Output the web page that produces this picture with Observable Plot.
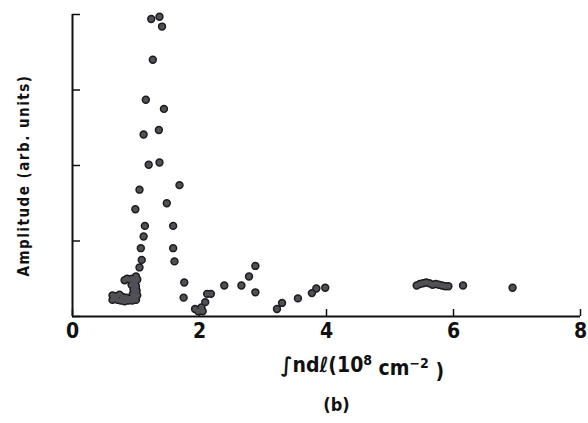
<!DOCTYPE html>
<html><head><meta charset="utf-8">
<script src="https://cdn.jsdelivr.net/npm/d3@7"></script>
<script src="https://cdn.jsdelivr.net/npm/@observablehq/plot@0.6"></script>
<style>
body{margin:0;background:#fff}
#chart svg{display:block}
</style></head><body><div id="chart"></div>
<script>
const xTicks = [0, 2, 4, 6, 8];
const yTicks = [0, 1, 2, 3, 4];
const xLabel = "\u222Bndℓ(10⁸ cm⁻²)";
const yLabel = "Amplitude (arb. units)";
const panelLabel = "(b)";

// main peak region
const peakX = [1.24,1.37,1.41,1.265,1.155,1.44,1.36,1.12,1.20,1.37,1.055,1.685,0.99,1.485,1.14,1.585,1.12,1.076,1.585,1.09,1.606,1.055,1.76,1.75,1.00];
const peakY = [3.94,3.97,3.84,3.40,2.87,2.75,2.47,2.41,2.01,2.04,1.68,1.74,1.42,1.50,1.20,1.20,1.06,0.905,0.905,0.75,0.73,0.65,0.45,0.25,0.53];
// dense low cluster near 0.6-1.0
const clusterX = [0.63,0.63,0.66,0.69,0.71,0.74,0.76,0.79,0.82,0.85,0.88,0.91,0.94,0.97,1.00,1.02,1.01,1.00,0.99,1.02,0.82,0.86,0.90,0.94,0.97,0.93,0.96,0.95];
const clusterY = [0.22,0.28,0.25,0.27,0.22,0.29,0.21,0.26,0.20,0.25,0.21,0.24,0.21,0.25,0.22,0.28,0.34,0.40,0.46,0.49,0.48,0.50,0.49,0.50,0.48,0.42,0.36,0.30];
// tail 2-4
const tailX = [1.93,1.98,2.03,2.05,2.09,2.12,2.18,2.39,2.66,2.78,2.88,2.88,3.22,3.30,3.55,3.77,3.84,3.98];
const tailY = [0.10,0.07,0.12,0.07,0.19,0.30,0.30,0.41,0.41,0.53,0.67,0.32,0.10,0.18,0.24,0.31,0.37,0.38];
// far group 5.4-7
const farX = [5.42,5.47,5.52,5.57,5.62,5.67,5.72,5.77,5.82,5.87,5.92,6.15,6.93];
const farY = [0.41,0.43,0.44,0.45,0.44,0.42,0.43,0.42,0.41,0.40,0.40,0.41,0.38];

const xs = [...peakX, ...clusterX, ...tailX, ...farX];
const ys = [...peakY, ...clusterY, ...tailY, ...farY];
const points = xs.map((x, i) => ({x, y: ys[i]}));

const FONT = "'Liberation Sans Narrow', 'DejaVu Sans Condensed', 'DejaVu Sans', sans-serif";

const chart = Plot.plot({
  width: 588,
  height: 423,
  marginLeft: 72,
  marginRight: 8,
  marginTop: 14,
  marginBottom: 107,
  style: {background: "#fff", color: "#111", fontFamily: FONT},
  x: {domain: [0, 8]},
  y: {domain: [0, 4]},
  marks: [
    Plot.axisY({ticks: yTicks, tickSize: -8, tickFormat: () => "", label: null, strokeWidth: 1.5}),
    Plot.axisX({ticks: xTicks, tickSize: -7, tickPadding: 14, label: null, strokeWidth: 1.5,
      fontSize: 21, fontWeight: "bold", fontFamily: FONT}),
    Plot.ruleX([0], {stroke: "#111", strokeWidth: 2}),
    Plot.ruleY([0], {stroke: "#111", strokeWidth: 1.8}),
    // outline pass then fill pass so overlapping dots merge into blobs
    Plot.dot(points, {x: "x", y: "y", r: 3.4, fill: "#1c1c1c", stroke: "#1c1c1c", strokeWidth: 1.6}),
    Plot.dot(points, {x: "x", y: "y", r: 2.7, fill: "#505056", stroke: "none"}),
    Plot.text([yLabel], {text: d => d, frameAnchor: "left", textAnchor: "middle", rotate: -90, dx: -48, dy: 10,
      fontSize: 15, fontWeight: "bold", fontFamily: FONT}),
    Plot.text([xLabel], {text: d => d, frameAnchor: "bottom", dx: 36, dy: 55,
      fontSize: 21, fontWeight: "bold", fontFamily: FONT}),
    Plot.text([panelLabel], {text: d => d, frameAnchor: "bottom", dx: 10, dy: 94,
      fontSize: 18, fontWeight: "bold", fontFamily: FONT})
  ]
});
document.getElementById("chart").append(chart);

// letter-spacing for y label, superscripts for x label
d3.select(chart).selectAll("text").each(function() {
  const t = d3.select(this);
  const s = this.textContent;
  if (s === yLabel) t.style("letter-spacing", "1.5px");
  if (s === xLabel) {
    t.text("");
    t.append("tspan").text("\u222Bndℓ(10");
    t.append("tspan").attr("dy", "-0.45em").attr("font-size", "14").text("8");
    t.append("tspan").attr("dy", "0.45em").text(" cm");
    t.append("tspan").attr("dy", "-0.45em").attr("font-size", "14").text("−2");
    t.append("tspan").attr("dy", "0.45em").text(" )");
  }
});
</script></body></html>
